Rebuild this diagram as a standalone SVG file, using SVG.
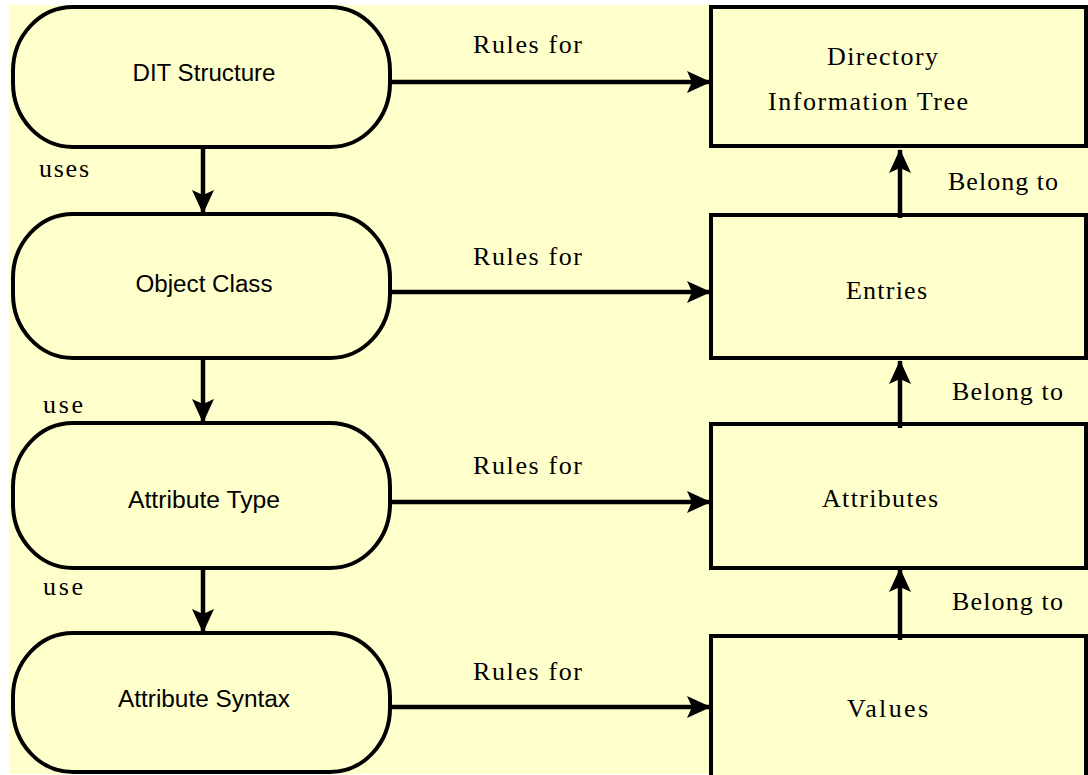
<svg xmlns="http://www.w3.org/2000/svg" width="1088" height="775" viewBox="0 0 1088 775">
  <style>
    .bg { fill: #FFFFCC; }
    .pill, .box { fill: #FFFFCC; stroke: #000; stroke-width: 4; }
    .conn { stroke: #000; stroke-width: 4.5; fill: none; }
    .sans { font-family: "Liberation Sans", Arial, sans-serif; font-size: 23px; fill: #000; text-anchor: middle; }
    .serif { font-family: "Liberation Serif", "Times New Roman", serif; font-size: 26px; fill: #000; }
  </style>
  <defs>
    <marker id="head" viewBox="0 0 24 22" refX="23" refY="11" markerWidth="24" markerHeight="22" markerUnits="userSpaceOnUse" orient="auto">
      <path d="M0,0 L24,11 L0,22 L5,11 Z" fill="#000"/>
    </marker>
  </defs>

  <rect x="0" y="0" width="1088" height="775" fill="#FFFFFF"/>
  <rect class="bg" x="9" y="5" width="1079" height="769"/>

  <!-- schema elements (left column) -->
  <g id="dit-structure">
    <rect class="pill" x="13" y="7" width="377" height="140" rx="60" ry="64"/>
    <text class="sans" x="204" y="81" textLength="143" lengthAdjust="spacingAndGlyphs">DIT Structure</text>
  </g>
  <g id="object-class">
    <rect class="pill" x="13" y="214" width="377" height="144" rx="60" ry="64"/>
    <text class="sans" x="204" y="292" textLength="137" lengthAdjust="spacingAndGlyphs">Object Class</text>
  </g>
  <g id="attribute-type">
    <rect class="pill" x="13" y="423" width="377" height="145" rx="60" ry="64"/>
    <text class="sans" x="204" y="508" textLength="152" lengthAdjust="spacingAndGlyphs">Attribute Type</text>
  </g>
  <g id="attribute-syntax">
    <rect class="pill" x="13" y="633" width="377" height="139" rx="60" ry="64"/>
    <text class="sans" x="204" y="707" textLength="172" lengthAdjust="spacingAndGlyphs">Attribute Syntax</text>
  </g>

  <!-- directory data (right column) -->
  <g id="dit">
    <rect class="box" x="711" y="7" width="375" height="139"/>
    <text class="serif" x="827" y="65" textLength="111" lengthAdjust="spacing">Directory</text>
    <text class="serif" x="768" y="110" textLength="200" lengthAdjust="spacing">Information Tree</text>
  </g>
  <g id="entries">
    <rect class="box" x="711" y="215" width="375" height="143"/>
    <text class="serif" x="846" y="299" textLength="81" lengthAdjust="spacing">Entries</text>
  </g>
  <g id="attributes">
    <rect class="box" x="711" y="424" width="375" height="144"/>
    <text class="serif" x="822" y="507" textLength="116" lengthAdjust="spacing">Attributes</text>
  </g>
  <g id="values">
    <rect class="box" x="711" y="636" width="375" height="150"/>
    <text class="serif" x="847" y="717" textLength="81" lengthAdjust="spacing">Values</text>
  </g>

  <!-- connectors -->
  <g id="connectors">
    <line class="conn" x1="390" y1="82" x2="710" y2="82" marker-end="url(#head)"/>
    <line class="conn" x1="390" y1="292" x2="710" y2="292" marker-end="url(#head)"/>
    <line class="conn" x1="390" y1="502" x2="710" y2="502" marker-end="url(#head)"/>
    <line class="conn" x1="390" y1="707" x2="710" y2="707" marker-end="url(#head)"/>

    <line class="conn" x1="203" y1="147" x2="203" y2="213" marker-end="url(#head)"/>
    <line class="conn" x1="203" y1="358" x2="203" y2="422" marker-end="url(#head)"/>
    <line class="conn" x1="203" y1="568" x2="203" y2="632" marker-end="url(#head)"/>

    <line class="conn" x1="900" y1="218" x2="900" y2="150" marker-end="url(#head)"/>
    <line class="conn" x1="900" y1="428" x2="900" y2="361" marker-end="url(#head)"/>
    <line class="conn" x1="900" y1="640" x2="900" y2="569" marker-end="url(#head)"/>

    <text class="serif" x="473" y="53" textLength="109" lengthAdjust="spacing">Rules for</text>
    <text class="serif" x="473" y="265" textLength="109" lengthAdjust="spacing">Rules for</text>
    <text class="serif" x="473" y="474" textLength="109" lengthAdjust="spacing">Rules for</text>
    <text class="serif" x="473" y="680" textLength="109" lengthAdjust="spacing">Rules for</text>

    <text class="serif" x="39" y="177" textLength="50" lengthAdjust="spacing">uses</text>
    <text class="serif" x="43" y="413" textLength="40" lengthAdjust="spacing">use</text>
    <text class="serif" x="43" y="595" textLength="40" lengthAdjust="spacing">use</text>

    <text class="serif" x="948" y="190" textLength="110" lengthAdjust="spacing">Belong to</text>
    <text class="serif" x="952" y="400" textLength="111" lengthAdjust="spacing">Belong to</text>
    <text class="serif" x="952" y="610" textLength="111" lengthAdjust="spacing">Belong to</text>
  </g>
</svg>
